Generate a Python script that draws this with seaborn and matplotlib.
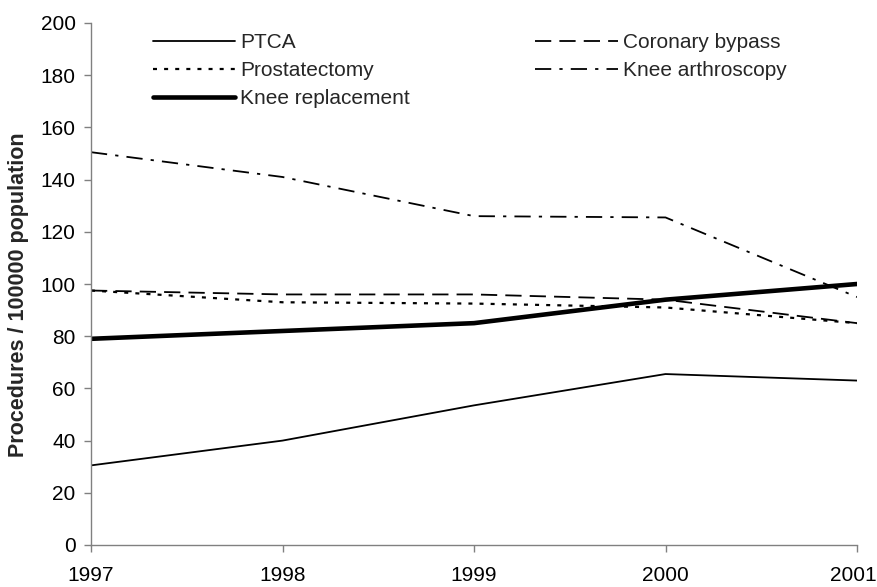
import matplotlib
matplotlib.use("Agg")
import matplotlib.pyplot as plt
import matplotlib.transforms as mtransforms
import seaborn as sns
import pandas as pd

years = [1997, 1998, 1999, 2000, 2001]
ptca = [30.5, 40.0, 53.5, 65.5, 63.0]
coronary_bypass = [97.5, 96.0, 96.0, 94.0, 85.0]
prostatectomy = [97.5, 93.0, 92.5, 91.0, 85.0]
knee_arthroscopy = [150.5, 141.0, 126.0, 125.5, 95.0]
knee_replacement = [79.0, 82.0, 85.0, 94.0, 100.0]

series = {
    "PTCA": ptca,
    "Coronary bypass": coronary_bypass,
    "Prostatectomy": prostatectomy,
    "Knee arthroscopy": knee_arthroscopy,
    "Knee replacement": knee_replacement,
}

styles = {
    "PTCA": dict(lw=1.3, dashes=None),
    "Coronary bypass": dict(lw=1.3, dashes=(9, 4.5)),
    "Prostatectomy": dict(lw=1.6, dashes=(1.8, 3.2)),
    "Knee arthroscopy": dict(lw=1.3, dashes=(9, 4.5, 1.8, 4.5)),
    "Knee replacement": dict(lw=3.3, dashes=None),
}

FS = 15

sns.set_theme(style="white")
plt.rcParams["font.family"] = ["Liberation Sans", "DejaVu Sans"]

fig = plt.figure(figsize=(8.77, 5.87), dpi=100)
ax = fig.add_axes([91 / 877, 1 - 545 / 587, 766 / 877, 522 / 587])

df = pd.DataFrame({"year": years, **series})
handles = {}
for name in series:
    st = styles[name]
    sns.lineplot(data=df, x="year", y=name, ax=ax, color="black", lw=st["lw"],
                 label=name)
    line = ax.get_lines()[-1]
    if st["dashes"] is not None:
        line.set_dashes(st["dashes"])
    handles[name] = line

ax.set_xlim(1997, 2001)
ax.set_ylim(0, 200)
ax.set_xticks(years)
ax.set_xticklabels([str(y) for y in years])
ax.set_yticks(range(0, 201, 20))
ax.set_xlabel("")
ax.set_ylabel("Procedures / 100000 population", fontsize=15.5, fontweight="bold")
ax.yaxis.set_label_coords(-0.081, 0.48)

for side in ["top", "right"]:
    ax.spines[side].set_visible(False)
for side in ["left", "bottom"]:
    ax.spines[side].set_color("#808080")
    ax.spines[side].set_linewidth(1.0)

ax.tick_params(axis="both", which="major", direction="out", length=5, width=1.0,
               color="#808080", labelsize=FS, labelcolor="black",
               left=True, bottom=True)
ax.tick_params(axis="x", pad=10)
ax.tick_params(axis="y", pad=6)

# keep the last year label inside the canvas
last = ax.get_xticklabels()[-1]
last.set_transform(last.get_transform() +
                   mtransforms.ScaledTranslation(-4 / 100, 0, fig.dpi_scale_trans))

order = ["PTCA", "Prostatectomy", "Knee replacement", "Coronary bypass", "Knee arthroscopy"]
leg = fig.legend([handles[n] for n in order], order, ncol=2, frameon=False,
                 loc="upper left", bbox_to_anchor=(153 / 877, 1 - 33 / 587),
                 borderpad=0, borderaxespad=0,
                 fontsize=FS, handlelength=3.95, handletextpad=0.25,
                 columnspacing=6.0, labelspacing=0.44)
ax.get_legend().remove()

fig.savefig("out.png", dpi=100)
